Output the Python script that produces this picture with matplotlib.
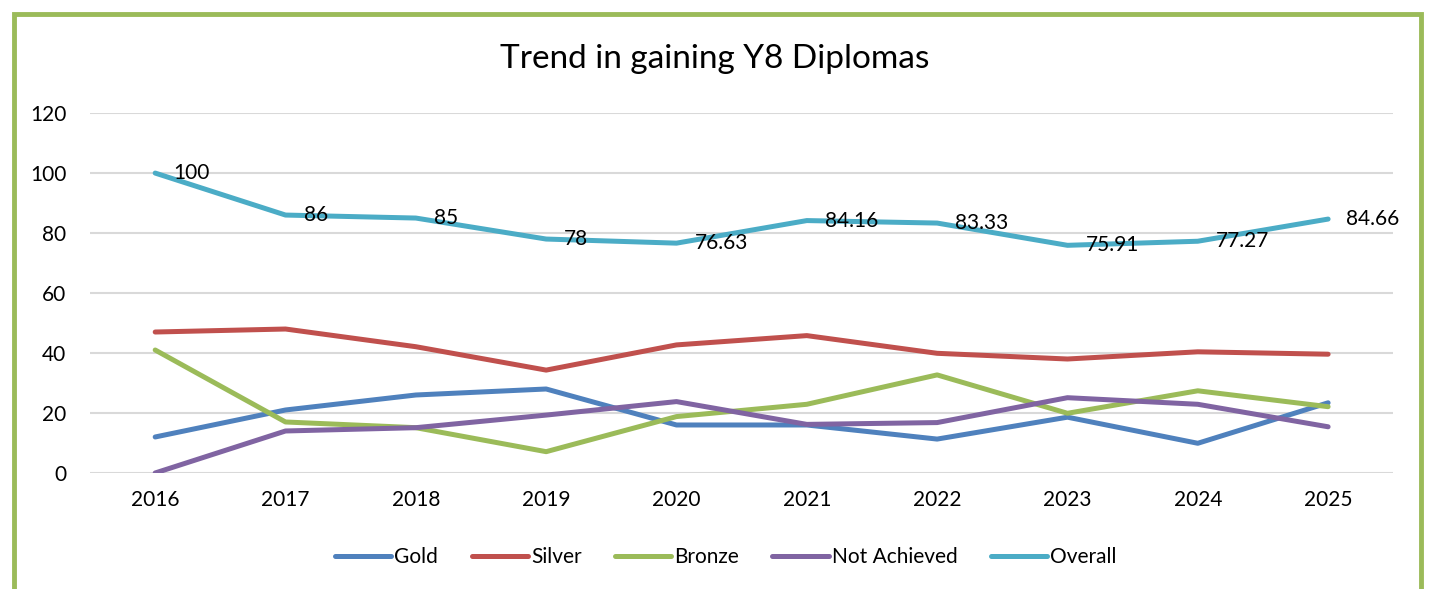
import matplotlib
matplotlib.use("Agg")
import matplotlib.pyplot as plt
from matplotlib.patches import Rectangle

years = ["2016", "2017", "2018", "2019", "2020", "2021", "2022", "2023", "2024", "2025"]
gold = [12, 21, 26, 28, 16, 16, 11.3, 18.6, 9.9, 23.4]
silver = [47, 48, 42.1, 34.3, 42.7, 45.8, 39.9, 38, 40.4, 39.6]
bronze = [41, 17, 15.1, 7.1, 18.8, 22.9, 32.7, 19.9, 27.4, 22.1]
not_achieved = [0, 14, 15.1, 19.3, 23.8, 16.2, 16.8, 25.1, 22.9, 15.4]
overall = [100, 86, 85, 78, 76.63, 84.16, 83.33, 75.91, 77.27, 84.66]
overall_labels = ["100", "86", "85", "78", "76.63", "84.16", "83.33", "75.91", "77.27", "84.66"]
yticks = [0, 20, 40, 60, 80, 100, 120]

plt.rcParams['font.family'] = ['Lato', 'DejaVu Sans']

fig = plt.figure(figsize=(14.29, 5.89), dpi=100)
ax = fig.add_axes([0.063, 0.197, 0.912, 0.611])

series = [("Gold", gold, "#4F81BD"), ("Silver", silver, "#C0504D"),
          ("Bronze", bronze, "#9BBB59"), ("Not Achieved", not_achieved, "#8064A2"),
          ("Overall", overall, "#4BACC6")]
x = list(range(len(years)))
for name, vals, col in series:
    ax.plot(x, vals, color=col, lw=3.6, label=name, solid_capstyle='round', solid_joinstyle='round')

for xi, v, lab in zip(x, overall, overall_labels):
    ax.annotate(lab, (xi, v), xytext=(13, 0), textcoords='offset points',
                ha='left', va='center', fontsize=15, color='black')

ax.set_xlim(-0.5, len(years) - 0.5)
ax.set_ylim(0, 120)
ax.set_yticks(yticks)
ax.set_xticks(x)
ax.set_xticklabels(years)
ax.tick_params(axis='both', length=0, labelsize=15)
ax.tick_params(axis='y', pad=17)
ax.tick_params(axis='x', pad=12)
ax.grid(axis='y', color='#D9D9D9', lw=1.5)
ax.set_axisbelow(True)
for s in ax.spines.values():
    s.set_visible(False)

fig.text(0.5, 0.90, "Trend in gaining Y8 Diplomas", ha='center', va='center', fontsize=24)

leg = fig.legend(loc='center', bbox_to_anchor=(0.508, 0.054), ncol=5, frameon=False,
                 fontsize=15, handlelength=2.7, handletextpad=0.15, columnspacing=1.6)

fig.patches.append(Rectangle((14 / 1429, -0.05), (1421 - 14) / 1429, 1.05 - 14 / 589,
                             transform=fig.transFigure, fill=False, edgecolor='#9BBB59', lw=3.5))

fig.savefig("out.png", dpi=100)
